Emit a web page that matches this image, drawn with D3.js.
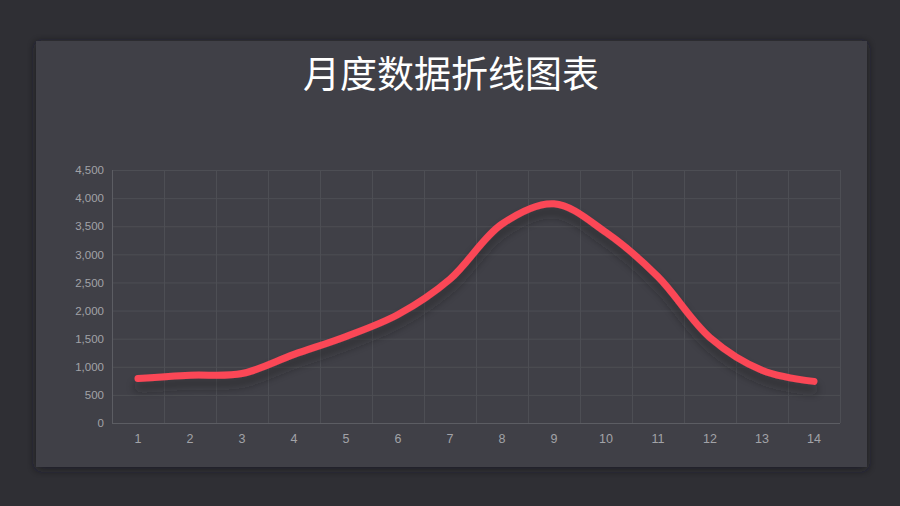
<!DOCTYPE html>
<html>
<head>
<meta charset="utf-8">
<script src="https://cdn.jsdelivr.net/npm/d3@7"></script>
<style>
  html, body { margin: 0; padding: 0; background: #2f2f34; }
  svg { display: block; }
</style>
</head>
<body>
<div id="chart"></div>
<script>
const title = '月度数据折线图表'
const months = ['1','2','3','4','5','6','7','8','9','10','11','12','13','14']
const values = [790, 850, 880, 1220, 1540, 1930, 2560, 3540, 3900, 3390, 2600, 1520, 940, 740]
const yTicks = [0, 500, 1000, 1500, 2000, 2500, 3000, 3500, 4000, 4500]

const width = 900, height = 506
const card = {x: 36, y: 41, w: 831, h: 426}
const margin = {top: 170, right: 60, bottom: 83, left: 112}
const visWidth = 840 - margin.left
const visHeight = 423 - margin.top

const svg = d3.select('#chart').append('svg')
  .attr('width', width)
  .attr('height', height)

const defs = svg.append('defs')
const cardShadow = defs.append('filter').attr('id', 'cardShadow')
  .attr('x', '-10%').attr('y', '-10%').attr('width', '120%').attr('height', '120%')
cardShadow.append('feDropShadow')
  .attr('dx', 0).attr('dy', 2).attr('stdDeviation', 5)
  .attr('flood-color', '#1c1c20').attr('flood-opacity', 0.8)

const lineShadow = defs.append('filter').attr('id', 'lineShadow')
  .attr('x', '-10%').attr('y', '-20%').attr('width', '120%').attr('height', '160%')
lineShadow.append('feDropShadow')
  .attr('dx', 0).attr('dy', 8).attr('stdDeviation', 5)
  .attr('flood-color', '#1a1a1e').attr('flood-opacity', 0.55)

svg.append('rect')
  .attr('x', card.x).attr('y', card.y)
  .attr('width', card.w).attr('height', card.h)
  .attr('fill', '#3f4046')
  .attr('filter', 'url(#cardShadow)')

svg.append('text')
  .attr('x', 451).attr('y', 88)
  .attr('text-anchor', 'middle')
  .attr('fill', '#ffffff')
  .attr('font-family', '"Noto Sans CJK SC", sans-serif')
  .attr('font-size', 37)
  .text(title)

const scaleX = d3.scaleBand()
  .domain(months)
  .range([0, visWidth])

const scaleY = d3.scaleLinear()
  .domain([0, 4500])
  .range([visHeight, 0])

const g = svg.append('g').attr('transform', `translate(${margin.left},${margin.top})`)

// grid
g.append('g').selectAll('line')
  .data(yTicks)
  .join('line')
  .attr('x1', 0).attr('x2', visWidth)
  .attr('y1', d => scaleY(d) + 0.5).attr('y2', d => scaleY(d) + 0.5)
  .attr('stroke', d => d === 0 ? '#5c5d63' : '#4d4e54')
  .attr('stroke-width', 1)

const xBounds = months.map(m => scaleX(m)).concat([visWidth])
g.append('g').selectAll('line')
  .data(xBounds)
  .join('line')
  .attr('x1', d => Math.round(d) + 0.5).attr('x2', d => Math.round(d) + 0.5)
  .attr('y1', 0).attr('y2', visHeight)
  .attr('stroke', (d, i) => i === 0 ? '#5c5d63' : '#4d4e54')
  .attr('stroke-width', 1)

// axes
const axisY = d3.axisLeft(scaleY)
  .tickValues(yTicks)
  .tickSize(0)
  .tickPadding(8)
  .tickFormat(d3.format(','))

const axisX = d3.axisBottom(scaleX)
  .tickSize(0)
  .tickPadding(11)

const yAxisG = g.append('g').call(axisY)
const xAxisG = g.append('g').attr('transform', `translate(0,${visHeight})`).call(axisX)

;[yAxisG, xAxisG].forEach(a => {
  a.select('.domain').remove()
  a.selectAll('text')
    .attr('fill', '#a2a3a8')
    .attr('font-family', '"Helvetica Neue", Arial, "Liberation Sans", sans-serif')
    .attr('font-size', 11.5)
})
xAxisG.selectAll('text').attr('font-size', 12.5)

// line
const line = d3.line()
  .x((d, i) => scaleX(months[i]) + scaleX.bandwidth() / 2)
  .y(d => scaleY(d))
  .curve(d3.curveCatmullRom.alpha(0.5))

g.append('path')
  .datum(values)
  .attr('d', line)
  .attr('fill', 'none')
  .attr('stroke', '#fb4757')
  .attr('stroke-width', 7)
  .attr('stroke-linecap', 'round')
  .attr('stroke-linejoin', 'round')
  .attr('filter', 'url(#lineShadow)')
</script>
</body>
</html>
